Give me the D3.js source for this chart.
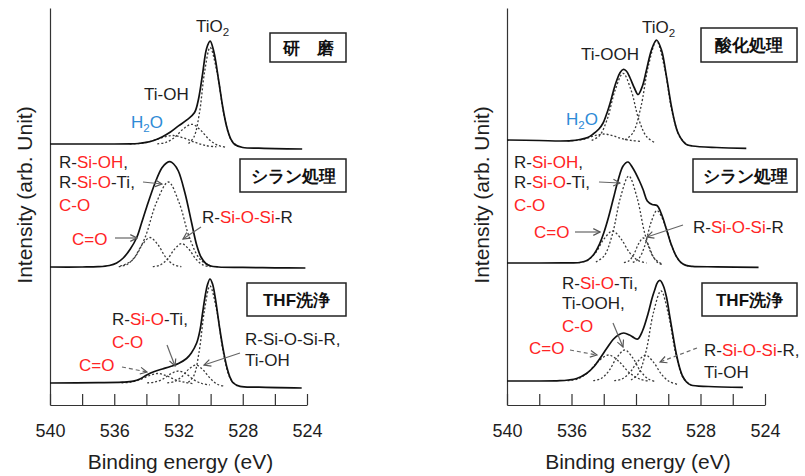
<!DOCTYPE html>
<html><head><meta charset="utf-8">
<script src="https://cdn.jsdelivr.net/npm/d3@7"></script>
<style>
body{margin:0;background:#fff;}
svg{display:block;}
text{font-family:"Liberation Sans",Arial,sans-serif;}
</style></head><body>
<svg id="chart" width="805" height="476"></svg>
<script>
// ---------------- data ----------------
const energyTicks = [540,538,536,534,532,530,528,526,524];
const energyLabels = [540,536,532,528,524];
const panelNames = ["研　磨","シラン処理","THF洗浄","酸化処理","シラン処理","THF洗浄"];
const panelBaselines = [261,138,22,264,142,24];   // stacking offsets (arb. units)

// left column: 研磨
const l1Total = [[540,0],[537,0],[535,0.1],[534.5,0.5],[534,1.6],[533.5,3.8],[533,7.3],[532.5,12],[532,18.1],[531.5,23.8],[531,31.5],[530.75,45.3],[530.5,70.2],[530.25,95.5],[530.03,102.8],[529.8,92.3],[529.5,63.5],[529.25,37.4],[529,17.2],[528.75,5.2],[528.5,-0.5],[528,-3.5],[527,-4.2],[526,-4.6],[524.3,-5]];
const l1H2O = [[535.04,0.1],[534.37,0.7],[533.69,2.8],[533.02,6.4],[532.34,8.5],[531.67,6.0],[530.99,1.8],[530.32,-1.5],[529.64,-2.8]];
const l1TiOH = [[533.32,0.2],[532.78,1.6],[532.24,6.6],[531.70,15.1],[531.16,19.7],[530.62,13.8],[530.08,4.3],[529.54,-1.4],[529.0,-3.3]];
const l1TiO2 = [[531.38,0.5],[531.04,7.0],[530.70,30.6],[530.37,72.7],[530.03,96.5],[529.60,71.7],[529.16,28.8],[528.73,4.4],[528.29,-2.4]];

// left column: シラン処理
const l2Total = [[540,0],[538,0],[537,0.3],[536.3,1.5],[535.85,4],[535.44,9],[535,18],[534.6,29.5],[534.3,44],[533.98,60],[533.46,84],[533.04,99],[532.75,104],[532.53,105.3],[532.3,103],[532.01,96],[531.59,73.5],[531.18,44],[530.87,22],[530.6,10],[530.3,3.5],[530,1],[529.5,0],[528,-0.4],[526,-0.8],[524.1,-1]];
const l2CdO = [[535.72,0.3],[535.22,2.4],[534.74,9.6],[534.26,22.3],[533.77,29.5],[533.28,22.3],[532.79,9.6],[532.31,2.4],[531.82,0.3]];
const l2SiOH = [[535.63,0.9],[534.88,6.8],[534.13,27.6],[533.38,64.2],[532.63,85],[531.96,64.2],[531.28,27.6],[530.61,6.8],[529.93,0.9]];
const l2SiOSi = [[533.6,0.3],[533.15,1.9],[532.7,7.6],[532.25,17.7],[531.8,23.5],[531.35,17.7],[530.9,7.6],[530.45,1.9],[530.0,0.3]];

// left column: THF洗浄
const l3Total = [[540,0],[537,0.3],[535.5,0.8],[534.81,1.8],[534.4,4],[533.98,8],[533.5,11.5],[533,14],[532.5,16.5],[532,19.5],[531.5,24.5],[531.2,30],[530.87,40],[530.66,53],[530.5,70],[530.35,86],[530.2,98],[530.04,104],[529.88,99],[529.73,87],[529.42,53],[529.2,32],[529,16.5],[528.8,6],[528.59,0],[528.17,-3.4],[527,-4.2],[524.33,-5]];
const l3CdO = [[535.55,0.1],[534.99,0.8],[534.43,3.1],[533.86,7.2],[533.3,9.5],[532.74,7.2],[532.18,3.1],[531.61,0.7],[531.05,-0.7]];
const l3SiOTi = [[533.95,0.1],[533.46,1.0],[532.98,3.9],[532.49,9.1],[532.0,12],[531.51,8.9],[531.03,3.1],[530.54,-0.5],[530.05,-1.9]];
const l3TiOH = [[532.7,0.2],[532.25,1.5],[531.8,6.2],[531.35,14.0],[530.9,18.0],[530.45,12.7],[530.0,4.2],[529.55,-1.5],[529.1,-3.2]];
const l3TiO2 = [[531.39,0.8],[531.05,7.1],[530.72,30.9],[530.38,73.0],[530.04,97],[529.61,71.9],[529.19,28.8],[528.76,4.0],[528.33,-2.9]];

// right column: 酸化処理
const r1Total = [[540,1],[538,0.5],[536.72,0],[536,0.3],[535.48,1.5],[535,3.5],[534.66,7],[534.3,12],[534.04,18],[533.8,28],[533.62,37],[533.4,50],[533.21,60],[533,68],[532.8,71.5],[532.6,70],[532.38,63.5],[532.1,53],[531.87,46.5],[531.6,55],[531.35,71],[531.04,91],[530.73,101],[530.42,91],[530.11,64.3],[529.8,34.3],[529.6,19],[529.39,8],[529.1,0],[528.87,-3.5],[528.5,-5],[527,-6.5],[525.16,-7.3]];
const r1H2O = [[536.25,0.1],[535.69,0.6],[535.13,2.3],[534.56,5.3],[534.0,7],[533.44,5.3],[532.88,2.3],[532.31,0.6],[531.75,-0.3]];
const r1TiOOH = [[534.75,0.7],[534.26,5.4],[533.78,22.0],[533.29,51.1],[532.8,67.7],[532.31,51.1],[531.83,21.7],[531.34,4.3],[530.85,-1.5]];
const r1TiO2 = [[532.68,1.1],[532.19,8.2],[531.71,33.0],[531.22,75.9],[530.73,100],[530.24,74.0],[529.76,29.2],[529.27,3.6],[528.78,-4.2]];

// right column: シラン処理
const r2Total = [[540,0],[538,0],[536.5,0.1],[535.5,0.5],[535,2.8],[534.6,8.9],[534.3,17.6],[534,30],[533.7,46],[533.4,64.7],[533.1,83.3],[532.8,97],[532.5,101],[532.2,95],[531.8,82.5],[531.55,73],[531.3,62],[531,58.5],[530.7,57.5],[530.4,48],[530.1,33],[529.8,17.9],[529.5,6.6],[529.2,0.3],[528.9,-2.4],[528.5,-3.4],[527,-3.8],[524.4,-4.3]];
const r2CdO = [[535.55,0.4],[535.03,2.6],[534.5,10.4],[533.98,24.2],[533.45,32],[532.93,24.2],[532.4,10.4],[531.88,2.6],[531.35,0]];
const r2SiOH = [[534.49,1.0],[533.98,7.0],[533.47,28.3],[532.96,65.7],[532.45,87],[531.94,65.7],[531.43,28.1],[530.92,5.9],[530.41,-0.9]];
const r2SiOSi = [[532.75,0.3],[532.45,2.0],[532.15,8.1],[531.85,18.9],[531.55,25],[531.25,18.4],[530.95,7.0],[530.65,0.4],[530.35,-1.7]];
const r2TiO2 = [[532.2,0.6],[531.83,4.3],[531.45,17.4],[531.08,39.9],[530.7,52.5],[530.21,38.6],[529.73,14.7],[529.24,0.8],[528.75,-2.9]];

// right column: THF洗浄
const r3Total = [[540,0],[538,0],[537,0.2],[536.72,0.3],[536.2,1],[535.68,2.5],[535.07,7.5],[534.6,14.5],[534.24,22.5],[533.8,33],[533.42,41.5],[533.1,46],[532.76,48],[532.4,46],[532.1,43],[531.89,42],[531.6,50],[531.25,67.5],[531,83],[530.84,91],[530.65,99],[530.5,100.5],[530.3,95],[530.11,84],[529.9,64],[529.7,45],[529.5,27],[529.29,13],[529.1,4.5],[528.87,-1],[528.6,-4],[527.5,-5.5],[525.37,-6.3]];
const r3CdO = [[536.25,0.3],[535.61,2.1],[534.98,8.5],[534.34,19.6],[533.7,26],[533.06,19.6],[532.43,8.5],[531.79,2.1],[531.15,-0.3]];
const r3SiOTi = [[534.65,0.3],[534.16,2.5],[533.68,10.1],[533.19,23.4],[532.7,31],[532.21,23.4],[531.73,10.1],[531.24,2.1],[530.75,-0.9]];
const r3TiOH = [[533.35,0.3],[532.86,2.1],[532.38,8.5],[531.89,19.6],[531.4,25.8],[530.91,18.7],[530.43,6.9],[529.94,-0.5],[529.45,-3.3]];
const r3TiO2 = [[532.31,1.0],[531.85,7.3],[531.38,29.6],[530.92,68.3],[530.45,90.1],[529.99,66.7],[529.52,26.3],[529.06,2.9],[528.59,-4.0]];

// ---------------- drawing ----------------
const RED = "#ff2424", BLUE = "#2e8ad6", INK = "#1e1e1e";
const svg = d3.select("#chart");
svg.append("rect").attr("width",805).attr("height",476).attr("fill","#fff");

const y = d3.scaleLinear().domain([0,397]).range([405,8]);
const xL = d3.scaleLinear().domain([540,524]).range([50,307]);
const xR = d3.scaleLinear().domain([540,524]).range([507,765]);

const panels = [
  {x:xL, off:panelBaselines[0], total:l1Total, comps:[l1H2O,l1TiOH,l1TiO2]},
  {x:xL, off:panelBaselines[1], total:l2Total, comps:[l2CdO,l2SiOH,l2SiOSi]},
  {x:xL, off:panelBaselines[2], total:l3Total, comps:[l3CdO,l3SiOTi,l3TiOH,l3TiO2]},
  {x:xR, off:panelBaselines[3], total:r1Total, comps:[r1H2O,r1TiOOH,r1TiO2]},
  {x:xR, off:panelBaselines[4], total:r2Total, comps:[r2CdO,r2SiOH,r2SiOSi,r2TiO2]},
  {x:xR, off:panelBaselines[5], total:r3Total, comps:[r3CdO,r3SiOTi,r3TiOH,r3TiO2]}
];

const defs = svg.append("defs");
defs.append("marker").attr("id","ah").attr("viewBox","0 0 10 10").attr("refX",9).attr("refY",5)
  .attr("markerWidth",7).attr("markerHeight",7).attr("orient","auto")
  .append("path").attr("d","M1,1 L9,5 L1,9").attr("fill","none").attr("stroke","#555").attr("stroke-width",1.4);

// axes
[xL,xR].forEach(x=>{
  const gb = svg.append("g").attr("transform","translate(0,405)")
    .call(d3.axisBottom(x).tickValues(energyTicks).tickSizeInner(-11).tickSizeOuter(0).tickPadding(19)
      .tickFormat(d=> energyLabels.includes(d) ? d : ""));
  gb.select(".domain").attr("stroke","#333").attr("stroke-width",1.2);
  gb.selectAll(".tick line").attr("stroke","#333").attr("stroke-width",1.2);
  gb.selectAll(".tick text").attr("font-size",18).attr("fill",INK).attr("font-family","Liberation Sans, Arial, sans-serif");
  const gl = svg.append("g").attr("transform",`translate(${x.range()[0]},0)`)
    .call(d3.axisLeft(y).tickValues([]).tickSizeOuter(0));
  gl.select(".domain").attr("stroke","#333").attr("stroke-width",1.2);
  const cx = (x.range()[0]+x.range()[1])/2;
  svg.append("text").attr("x",cx+2).attr("y",469).attr("text-anchor","middle")
    .attr("font-size",21).attr("fill",INK).text("Binding energy (eV)");
  svg.append("text").attr("transform",`translate(${x.range()[0]-18},195) rotate(-90)`)
    .attr("text-anchor","middle").attr("font-size",21).attr("fill",INK).text("Intensity (arb. Unit)");
});

// spectra
panels.forEach(p=>{
  const line = d3.line().x(d=>p.x(d[0])).y(d=>y(d[1]+p.off)).curve(d3.curveCatmullRom.alpha(0.5));
  p.comps.forEach(c=>{
    svg.append("path").datum(c).attr("d",line).attr("fill","none")
      .attr("stroke","#3a3a3a").attr("stroke-width",1.3).attr("stroke-dasharray","2,2");
  });
  svg.append("path").datum(p.total).attr("d",line).attr("fill","none")
    .attr("stroke","#111").attr("stroke-width",1.7);
});

// panel name boxes
const boxes = [[270,33,76,29],[240,159,106,33],[247,283,99,33],[701,28,96,34],[693,159,104,33],[702,283,95,33]];
boxes.forEach((b,i)=>{
  svg.append("rect").attr("x",b[0]).attr("y",b[1]).attr("width",b[2]).attr("height",b[3])
    .attr("fill","#fff").attr("stroke","#222").attr("stroke-width",1.5);
  svg.append("text").attr("x",b[0]+b[2]/2).attr("y",b[1]+b[3]/2+6).attr("text-anchor","middle")
    .attr("font-family","Noto Sans CJK JP, sans-serif").attr("font-weight","bold").attr("font-size",17)
    .attr("fill","#111").text(panelNames[i]);
});

// annotations
function label(x,yy,parts,size){
  size = size||17;
  const t = svg.append("text").attr("x",x).attr("y",yy).attr("font-size",size);
  let sub=false;
  parts.forEach(p=>{
    const s = t.append("tspan").attr("fill", p[1]==="r"?RED:(p[1]==="b"?BLUE:INK)).text(p[0]);
    if(p[2]==="sub"){ s.attr("font-size",size*0.68).attr("dy",4); sub=true; }
    else if(sub){ s.attr("dy",-4); sub=false; }
  });
}
function arrow(x1,y1,x2,y2,dashed){
  svg.append("line").attr("x1",x1).attr("y1",y1).attr("x2",x2).attr("y2",y2)
    .attr("stroke","#666").attr("stroke-width",1.2).attr("stroke-dasharray",dashed?"4,3":null)
    .attr("marker-end","url(#ah)");
}
// L1
label(196,32,[["TiO","k"],["2","k","sub"]]);
label(144,100,[["Ti-OH","k"]]);
label(131,128,[["H","b"],["2","b","sub"],["O","b"]]);
// L2
label(59,168,[["R-","k"],["Si-OH","r"],[",","k"]]);
label(59,188,[["R-","k"],["Si-O","r"],["-Ti,","k"]]);
label(59,211,[["C-O","r"]]);
label(72,245,[["C=O","r"]]);
label(202,223,[["R-","k"],["Si-O-Si","r"],["-R","k"]]);
arrow(143,182,162,184); arrow(115,238,137,238); arrow(201,227,183,239);
// L3
label(112,325,[["R-","k"],["Si-O","r"],["-Ti,","k"]]);
label(112,348,[["C-O","r"]]);
label(79,371,[["C=O","r"]]);
label(245,345,[["R-Si-O-Si-R,","k"]]);
label(245,366,[["Ti-OH","k"]]);
arrow(122,367,147,372,true); arrow(167,345,175,366); arrow(240,353,204,365);
// R1
label(642,33,[["TiO","k"],["2","k","sub"]]);
label(581,60,[["Ti-OOH","k"]]);
label(566,125,[["H","b"],["2","b","sub"],["O","b"]]);
// R2
label(514,168,[["R-","k"],["Si-OH","r"],[",","k"]]);
label(514,188,[["R-","k"],["Si-O","r"],["-Ti,","k"]]);
label(514,211,[["C-O","r"]]);
label(534,238,[["C=O","r"]]);
label(693,233,[["R-","k"],["Si-O-Si","r"],["-R","k"]]);
arrow(599,182,620,183); arrow(575,232,600,232); arrow(683,225,647,237);
// R3
label(562,289,[["R-","k"],["Si-O","r"],["-Ti,","k"]]);
label(562,309,[["Ti-OOH,","k"]]);
label(562,332,[["C-O","r"]]);
label(529,354,[["C=O","r"]]);
label(704,356,[["R-","k"],["Si-O-Si","r"],["-R,","k"]]);
label(704,378,[["Ti-OH","k"]]);
arrow(570,350,597,355,true); arrow(613,323,623,347); arrow(697,348,660,362,true);
</script>
</body></html>
